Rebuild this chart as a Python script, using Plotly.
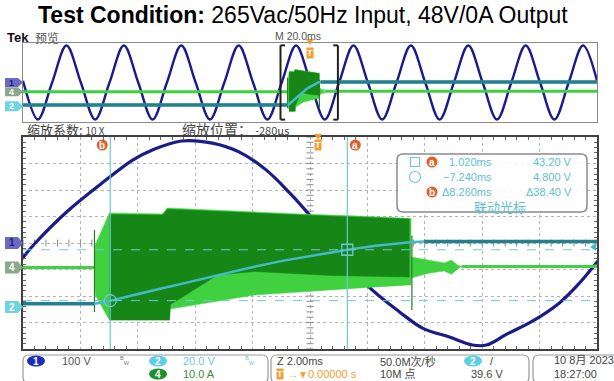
import plotly.graph_objects as go

W, H = 614, 381

# ---------------- acquisition data ----------------
# zoom window: 2.00 ms/div, centred at -280 us
zoom_range = [-10.28, 9.72]
overview_range = [-100.0, 100.0]

# CH1 input voltage (V) inside the zoom window
ch1_t = [-10.50, -10.30, -9.85, -8.76, -7.61, -6.46, -5.77, -4.76, -3.68, -2.74, -1.80, -0.99,
         -0.30, 0.50, 1.70, 2.84, 3.64, 4.58, 5.38, 5.87, 6.56, 7.47, 8.41, 9.11, 9.70, 9.90]
ch1_v = [-83, -57, 0, 117, 219, 313, 351, 385, 377, 343, 275, 189,
         106, 0, -158, -260, -321, -355, -385, -385, -345, -295, -226, -151, -75, -50]

# CH1 input voltage (V) across the 200 ms record
ov1_t = [-100.0, -99.85, -94.85, -89.85, -84.85, -79.85, -74.85, -69.85, -64.85, -59.85,
         -54.85, -49.85, -44.85, -39.85, -34.85, -29.85, -24.85, -19.85, -14.85, -9.85,
         -4.85, 0.15, 5.15, 10.15, 15.15, 20.15, 25.15, 30.15, 35.15, 40.15,
         45.15, 50.15, 55.15, 60.15, 65.15, 70.15, 75.15, 80.15, 85.15, 90.15,
         95.15, 100.0]
ov1_v = [18, 0, -375, 0, 375, 0, -375, 0, 375, 0,
         -375, 0, 375, 0, -375, 0, 375, 0, -375, 0,
         375, 0, -375, 0, 375, 0, -375, 0, 375, 0,
         -375, 0, 375, 0, -375, 0, 375, 0, -375, 0,
         375, 18]

# CH2 output voltage (V)
ch2_t = [-100.0, -7.80, -7.50, -7.24, -6.40, -5.50, -4.65, -3.50, -2.30, -1.20, 0.00,
         1.02, 2.00, 2.80, 3.30, 3.70, 100.0]
ch2_v = [2.5, 2.5, 3.4, 4.8, 9.0, 13.8, 18.0, 24.0, 30.0, 35.0, 39.5,
         43.2, 46.3, 48.2, 49.1, 49.5, 49.5]

# CH4 input current (A): idle baseline before and after the burst
ch4_t = [-100.0, -7.79, None, 5.00, 100.0]
ch4_a = [0.0, 0.0, None, 0.4, 0.4]

# CH4 switching burst envelope (A)
burst_top_t = [-7.79, -7.76, -7.27, -5.42, -5.25, -2.22, -0.65, 1.44, 3.18, 3.24]
burst_top_a = [0.2, 8.5, 20.6, 20.2, 22.5, 20.9, 20.2, 19.4, 18.7, 18.5]
burst_bot_t = [-7.79, -7.76, -7.45, -7.27, -5.20, -5.17, -2.22, -0.65, 1.44, 3.18, 3.24]
burst_bot_a = [0.2, -10.4, -16.5, -19.8, -19.8, -15.7, -10.4, -9.2, -7.7, -6.6, -6.6]

# CH4 dense core of the burst (A)
core_top_t = [-7.27, -5.42, -5.25, -2.22, -0.65, 1.44, 3.18]
core_top_a = [20.0, 19.8, 22.0, 20.5, 19.8, 19.0, 18.3]
core_bot_t = [-7.27, -5.17, -5.14, -3.50, -2.22, 0.50, 3.18]
core_bot_a = [-19.8, -19.8, -14.0, -2.8, -1.5, -3.0, -3.6]

# CH4 ringing after the burst (A)
tail_t = [3.24, 3.88, 4.40, 4.65, 4.86, 5.00]
tail_top_a = [4.0, 2.8, 1.7, 2.8, 0.9, 0.4]
tail_bot_a = [-4.0, -2.1, -1.3, -2.5, -0.6, 0.4]

# CH4 edge spikes (A)
spike_t = [-7.79, -7.79, None, 3.27, 3.27]
spike_a = [14.2, -16.8, None, 12.0, -16.0]

# cursors (time ms, CH2 volts)
cur_a = (1.020, 43.20)
cur_b = (-7.240, 4.800)

# vertical ranges of each channel over the 8 divisions
ch1_range = [-400, 400]
ch4_range = [-30.75, 49.25]
ch2_range = [-31.7, 128.3]

# ---------------- colours ----------------
C1 = "#1b1b8a"
C2 = "#45b9cc"
C2_DARK = "#23808f"
C4 = "#3fd13f"
C4_CORE = "#168616"
CUR = "#6cc8d8"
TXT_CUR = "#5fc0d0"
ORANGE = "#f0a030"
RED = "#e0602a"
FONT = "Liberation Sans, Noto Sans CJK SC, sans-serif"
CJK = "Noto Sans CJK SC, sans-serif"

fig = go.Figure()


def px(x):
    return x / W


def py(y):
    return 1 - y / H


def poly(t_top, a_top, t_bot, a_bot):
    return list(t_top) + list(t_bot[::-1]), list(a_top) + list(a_bot[::-1])


def add_channels(xa, y1, y4, y2, ch1x, ch1y, w1):
    fig.add_trace(go.Scatter(x=ch1x, y=ch1y, xaxis=xa, yaxis=y1, mode="lines",
                             line=dict(color=C1, width=w1, shape="spline"), hoverinfo="skip"))
    fig.add_trace(go.Scatter(x=ch4_t, y=ch4_a, xaxis=xa, yaxis=y4, mode="lines",
                             line=dict(color=C4, width=3), hoverinfo="skip"))
    bx, by = poly(burst_top_t, burst_top_a, burst_bot_t, burst_bot_a)
    fig.add_trace(go.Scatter(x=bx, y=by, xaxis=xa, yaxis=y4, mode="lines", fill="toself",
                             fillcolor=C4, line=dict(color=C4, width=0.5), hoverinfo="skip"))
    cx, cy = poly(core_top_t, core_top_a, core_bot_t, core_bot_a)
    fig.add_trace(go.Scatter(x=cx, y=cy, xaxis=xa, yaxis=y4, mode="lines", fill="toself",
                             fillcolor=C4_CORE, line=dict(color=C4_CORE, width=0.5), hoverinfo="skip"))
    tx, ty = poly(tail_t, tail_top_a, tail_t, tail_bot_a)
    fig.add_trace(go.Scatter(x=tx, y=ty, xaxis=xa, yaxis=y4, mode="lines", fill="toself",
                             fillcolor=C4, line=dict(color=C4, width=0.5), hoverinfo="skip"))
    fig.add_trace(go.Scatter(x=spike_t, y=spike_a, xaxis=xa, yaxis=y4, mode="lines",
                             line=dict(color="#2a7a2a", width=1.2), hoverinfo="skip"))
    fig.add_trace(go.Scatter(x=ch2_t, y=ch2_v, xaxis=xa, yaxis=y2, mode="lines",
                             line=dict(color=C2, width=2.5), hoverinfo="skip"))
    # noisy flat portions of the output rail
    fig.add_trace(go.Scatter(x=ch2_t[:2] + [None] + ch2_t[-2:], y=ch2_v[:2] + [None] + ch2_v[-2:],
                             xaxis=xa, yaxis=y2, mode="lines",
                             line=dict(color=C2_DARK, width=3.5), hoverinfo="skip"))


# graticule cross ticks on the zoom window centre lines
cx_ticks = [zoom_range[0] + 0.4 * i for i in range(51)]
cy_ticks = [ch1_range[0] + 20 * i for i in range(41)]
centre_t = (zoom_range[0] + zoom_range[1]) / 2
fig.add_trace(go.Scatter(x=cx_ticks, y=[0] * len(cx_ticks), xaxis="x", yaxis="y", mode="markers",
                         marker=dict(symbol="line-ns", size=5, color="#8a8a8a",
                                     line=dict(width=1, color="#8a8a8a")),
                         hoverinfo="skip"))
fig.add_trace(go.Scatter(x=[centre_t] * len(cy_ticks), y=cy_ticks, xaxis="x", yaxis="y", mode="markers",
                         marker=dict(symbol="line-ew", size=5, color="#8a8a8a",
                                     line=dict(width=1, color="#8a8a8a")),
                         hoverinfo="skip"))

# zoom window (CH4 on y2 so that CH2 on y3 draws above it)
add_channels("x", "y", "y2", "y3", ch1_t, ch1_v, 3.2)
# overview record
add_channels("x2", "y4", "y5", "y6", ov1_t, ov1_v, 2.4)

# cursor intersection markers
fig.add_trace(go.Scatter(x=[cur_a[0]], y=[cur_a[1]], xaxis="x", yaxis="y3", mode="markers",
                         marker=dict(symbol="square-open", size=11, color=CUR,
                                     line=dict(color=CUR, width=1.3)),
                         hoverinfo="skip"))
fig.add_trace(go.Scatter(x=[cur_b[0]], y=[cur_b[1]], xaxis="x", yaxis="y3", mode="markers",
                         marker=dict(symbol="circle-open", size=12, color=CUR,
                                     line=dict(color=CUR, width=1.3)),
                         hoverinfo="skip"))

shapes = []
ann = []


def txt(x, y, s, size=11, color="#444", anchor="left", family=FONT, **kw):
    ann.append(dict(x=px(x), y=py(y), xref="paper", yref="paper", text=s, showarrow=False,
                    xanchor=anchor, yanchor="middle", font=dict(size=size, color=color, family=family), **kw))


def rrect(x0, y0, x1, y1, r, line="#9a9a9a", fill="rgba(0,0,0,0)", lw=1.2):
    w, h = x1 - x0, y1 - y0
    p = (f"M {r},0 L {w - r},0 Q {w},0 {w},{r} L {w},{h - r} Q {w},{h} {w - r},{h} "
         f"L {r},{h} Q 0,{h} 0,{h - r} L 0,{r} Q 0,0 {r},0 Z")
    shapes.append(dict(type="path", xref="paper", yref="paper", xsizemode="pixel", ysizemode="pixel",
                       xanchor=px(x0), yanchor=py(y1), path=p, fillcolor=fill,
                       line=dict(color=line, width=lw), layer="above"))


def pix_shape(kind, x, y, w, h, fill="rgba(0,0,0,0)", line=None, lw=1):
    shapes.append(dict(type=kind, xref="paper", yref="paper", xsizemode="pixel", ysizemode="pixel",
                       xanchor=px(x), yanchor=py(y), x0=-w / 2, x1=w / 2, y0=-h / 2, y1=h / 2,
                       fillcolor=fill, line=dict(width=lw if line else 0, color=line), layer="above"))


def badge(x, y, label, fill, tcolor="white", w=18, h=11):
    pix_shape("circle", x, y, w, h, fill=fill)
    txt(x, y, f"<b>{label}</b>", size=10, color=tcolor, anchor="center")


def tag(yref, y, label, fill, tcolor="white", xedge=23, hh=6):
    p = f"M -18,{hh} L -5,{hh} L 0,0 L -5,-{hh} L -18,-{hh} Z"
    shapes.append(dict(type="path", xref="paper", yref=yref, xsizemode="pixel", ysizemode="pixel",
                       xanchor=px(xedge), yanchor=y, path=p, fillcolor=fill,
                       line=dict(width=0), layer="above"))
    ann.append(dict(x=px(xedge - 11), y=y, xref="paper", yref=yref, text=f"<b>{label}</b>",
                    showarrow=False, xanchor="center", yanchor="middle",
                    font=dict(size=10 if hh >= 6 else 9, color=tcolor, family=FONT)))


# channel ground tags
tag("y", 0, "1", "#6a6ac4", "#1f1f7a")
tag("y2", 0, "4", "#8aa88a")
tag("y3", 0, "2", "#6fd3e2")
tag("y4", 0, "1", "#6a6ac4", "#1f1f7a", hh=4.5)
tag("y5", 0, "4", "#8aa88a", hh=4.5)
tag("y6", 0, "2", "#6fd3e2", hh=5)

# zoom bracket in the overview
for t0, d in ((zoom_range[0], 1), (zoom_range[1], -1)):
    shapes.append(dict(type="line", xref="x2", yref="y4 domain", x0=t0, x1=t0, y0=0.03, y1=0.97,
                       line=dict(color="#202020", width=2), layer="above"))
    for yy in (0.03, 0.97):
        shapes.append(dict(type="line", xref="x2", yref="y4 domain", x0=t0, x1=t0 + d * 1.6, y0=yy, y1=yy,
                           line=dict(color="#202020", width=2), layer="above"))

# cursors
for t0, _ in (cur_a, cur_b):
    shapes.append(dict(type="line", xref="x", yref="y domain", x0=t0, x1=t0, y0=0, y1=1,
                       line=dict(color=CUR, width=1.2), layer="above"))
for _, v0 in (cur_a, cur_b):
    shapes.append(dict(type="line", xref="x domain", yref="y3", x0=0, x1=1, y0=v0, y1=v0,
                       line=dict(color=CUR, width=1, dash="dash"), layer="above"))
for (t0, _), lab, dx in ((cur_a, "a", 8), (cur_b, "b", -8)):
    shapes.append(dict(type="circle", xref="x", yref="paper", xsizemode="pixel", ysizemode="pixel",
                       xanchor=t0, yanchor=py(145), x0=dx - 5.5, x1=dx + 5.5, y0=-5.5, y1=5.5,
                       fillcolor=RED, line=dict(width=0), layer="above"))
    ann.append(dict(x=t0, y=py(145), xref="x", yref="paper", xshift=dx, text=f"<b>{lab}</b>",
                    showarrow=False, xanchor="center", yanchor="middle",
                    font=dict(size=10, color="white", family=FONT)))

# trigger markers
for xr, ytri, ybadge in (("x", 137, 145), ("x2", 42, 53)):
    shapes.append(dict(type="path", xref=xr, yref="paper", xsizemode="pixel", ysizemode="pixel",
                       xanchor=0, yanchor=py(ytri), path="M -4,3 L 4,3 L 0,-3 Z",
                       fillcolor=ORANGE, line=dict(width=0), layer="above"))
    ann.append(dict(x=0, y=py(ybadge), xref=xr, yref="paper", text="<b>T</b>", showarrow=False,
                    xanchor="center", yanchor="middle", bgcolor=ORANGE, borderpad=0,
                    font=dict(size=9, color="white", family=FONT)))

# small CH2 marker at the right edge
shapes.append(dict(type="path", xref="paper", yref="y3", xsizemode="pixel", ysizemode="pixel",
                   xanchor=px(596), yanchor=cur_a[1] + 2, path="M 0,4 L 0,-4 L -6,0 Z",
                   fillcolor=C2, line=dict(width=0), layer="above"))

# cursor read-out panel
rrect(397, 154, 587, 212, 6, line="#8a8a8a", fill="rgba(255,255,255,0.88)", lw=1.5)
ta, va = cur_a
tb, vb = cur_b
pix_shape("rect", 415, 162, 9, 9, line=CUR, lw=1.2)
pix_shape("circle", 415, 177, 11, 11, line=CUR, lw=1.2)
for yy, lab in ((162, "a"), (192, "b")):
    badge(432, yy, lab, RED, w=11, h=11)
txt(494, 162, f"{ta:.3f}ms", color=TXT_CUR, anchor="right")
txt(494, 177, f"\u2212{abs(tb):.3f}ms", color=TXT_CUR, anchor="right")
txt(494, 192, f"\u0394{ta - tb:.3f}ms", color=TXT_CUR, anchor="right")
txt(574, 162, f"{va:.2f} V", color=TXT_CUR, anchor="right")
txt(574, 177, f"{vb:.3f} V", color=TXT_CUR, anchor="right")
txt(574, 192, f"\u0394{va - vb:.2f} V", color=TXT_CUR, anchor="right")
txt(500, 206, "联动光标", size=13, color=TXT_CUR, anchor="center", family=CJK)

# header texts
ann.append(dict(x=px(303), y=py(15), xref="paper", yref="paper", showarrow=False,
                xanchor="center", yanchor="middle",
                text="<b>Test Condition:</b> 265Vac/50Hz Input, 48V/0A Output",
                font=dict(size=23, color="black", family=FONT)))
txt(5, 37, "<b>Tek</b>", size=13, color="#111")
txt(33, 37, "预览", size=12, color="#555", family=CJK)
txt(273, 36, "M 20.0ms", size=10.5, color="#555")
txt(25, 129, "缩放系数: <span style='font-size:10px'>10 X</span>", size=13, color="#444", family=CJK)
txt(180, 129, "缩放位置： <span style='font-size:11px'>-280µs</span>", size=14, color="#444", family=CJK)

# status bar
rrect(23, 355, 268, 383, 6)
rrect(271, 355, 529, 383, 6)
rrect(533, 355, 622, 383, 6)
badge(36, 361, "1", "#1a2fb8")
txt(60, 361, "100 V", size=11, color="#555")
txt(118, 360, "<sup>B</sup><sub>W</sub>", size=8, color="#777")
badge(158, 361, "2", "#5cd0e2")
txt(181, 361, "20.0 V", size=11, color="#6cc8d8")
txt(243, 360, "<sup>B</sup><sub>W</sub>", size=8, color="#6cc8d8")
badge(158, 374, "4", "#1e8f2e")
txt(181, 374, "10.0 A", size=11, color="#3a8a3a")
txt(275, 361, "Z 2.00ms", size=11, color="#444")
ann.append(dict(x=px(280), y=py(374), xref="paper", yref="paper", text="<b>T</b>", showarrow=False,
                xanchor="center", yanchor="middle", bgcolor=ORANGE, borderpad=0,
                font=dict(size=9, color="white", family=FONT)))
txt(286, 374, "→▼<span style='font-size:11px'>0.00000 s</span>", size=10, color=ORANGE)
txt(378, 361, "50.0M次/秒", size=11, color="#444", family=FONT)
txt(378, 374, "10M 点", size=11, color="#444", family=FONT)
badge(473, 361, "2", "#5cd0e2")
txt(492, 361, "/", size=11, color="#444", anchor="center")
txt(469, 374, "39.6 V", size=11, color="#444")
txt(552, 360, "10 8月 2023", size=11, color="#444", family=FONT)
txt(552, 374, "18:27:00", size=11, color="#444")

x_dom = [px(23), px(597)]
main_dom = [py(349), py(137)]
ov_dom = [py(122), py(43)]

hidden = dict(visible=False, showgrid=False, zeroline=False)

fig.update_layout(
    width=W, height=H, margin=dict(l=0, r=0, t=0, b=0),
    paper_bgcolor="white", plot_bgcolor="white", showlegend=False, hovermode=False,
    font=dict(family=FONT),
    xaxis=dict(domain=x_dom, range=zoom_range, anchor="y", tick0=zoom_range[0], dtick=2,
               showgrid=True, griddash="dot", gridcolor="#b4b4b4", gridwidth=1,
               showticklabels=False, zeroline=False, showline=True, linecolor="#404040",
               linewidth=1.5, mirror="allticks", ticks="inside", ticklen=0,
               minor=dict(dtick=0.4, tick0=zoom_range[0], ticks="inside", ticklen=3,
                          tickcolor="#666", showgrid=False)),
    yaxis=dict(domain=main_dom, range=ch1_range, anchor="x", tick0=0, dtick=100,
               showgrid=True, griddash="dot", gridcolor="#b4b4b4", gridwidth=1,
               showticklabels=False, zeroline=False, showline=True, linecolor="#404040",
               linewidth=1.5, mirror="allticks", ticks="inside", ticklen=0,
               minor=dict(dtick=20, tick0=0, ticks="inside", ticklen=3,
                          tickcolor="#666", showgrid=False)),
    yaxis2=dict(overlaying="y", anchor="x", range=ch4_range, **hidden),
    yaxis3=dict(overlaying="y", anchor="x", range=ch2_range, **hidden),
    xaxis2=dict(domain=x_dom, range=overview_range, anchor="y4", showgrid=False,
                showticklabels=False, zeroline=False, showline=True, linecolor="#8a8a8a",
                linewidth=1, mirror=True, ticks=""),
    yaxis4=dict(domain=ov_dom, range=ch1_range, anchor="x2", showgrid=False,
                showticklabels=False, zeroline=False, showline=True, linecolor="#8a8a8a",
                linewidth=1, mirror=True, ticks=""),
    yaxis5=dict(overlaying="y4", anchor="x2", range=ch4_range, **hidden),
    yaxis6=dict(overlaying="y4", anchor="x2", range=ch2_range, **hidden),
    shapes=shapes, annotations=ann,
)

fig.write_html("out.html", config={"displayModeBar": False})
